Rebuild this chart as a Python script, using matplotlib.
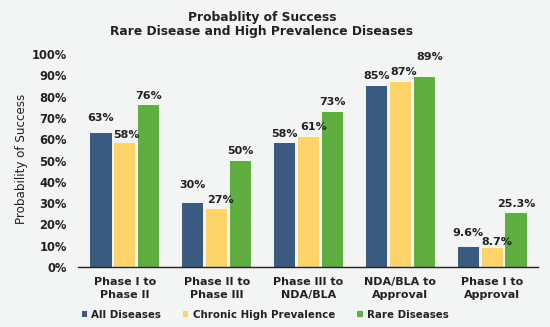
import matplotlib
matplotlib.use("Agg")
import matplotlib.pyplot as plt
import numpy as np

categories = ["Phase I to\nPhase II", "Phase II to\nPhase III", "Phase III to\nNDA/BLA",
              "NDA/BLA to\nApproval", "Phase I to\nApproval"]
all_diseases = [63, 30, 58, 85, 9.6]
chronic_high = [58, 27, 61, 87, 8.7]
rare_diseases = [76, 50, 73, 89, 25.3]
all_labels = ["63%", "30%", "58%", "85%", "9.6%"]
chronic_labels = ["58%", "27%", "61%", "87%", "8.7%"]
rare_labels = ["76%", "50%", "73%", "89%", "25.3%"]
series_names = ["All Diseases", "Chronic High Prevalence", "Rare Diseases"]
colors = ["#3a5a80", "#fdd46a", "#60ad40"]
yticks = list(range(0, 101, 10))

# label placement (pixel offsets relative to bar top centre), per series
label_gap = [[10, 13, 4, 5, 9], [3, 4, 5, 5, 1], [4, 4, 5, 15, 4]]
label_dx = [[0, 0, 0, 0, 0], [2, 4, 5, 3, 5], [0, 0, 0, 6, 0]]

plt.rcParams['font.family'] = ['DejaVu Sans']
fig = plt.figure(figsize=(5.5, 3.27), dpi=100, facecolor="#f3f4f4")
ax = fig.add_axes([78/550, 1-267/327, (538-78)/550, (267-54)/327])
ax.set_facecolor("none")

x = np.arange(len(categories))
w = 0.23
step = 0.26
series = [all_diseases, chronic_high, rare_diseases]
labels = [all_labels, chronic_labels, rare_labels]
for i, (vals, labs, c, name) in enumerate(zip(series, labels, colors, series_names)):
    pos = x + (i - 1) * step
    ax.bar(pos, vals, width=w, color=c, label=name, zorder=2)
    for j, (p, v, t) in enumerate(zip(pos, vals, labs)):
        ax.annotate(t, (p, v), xytext=(label_dx[i][j] * 0.72, label_gap[i][j] * 0.72),
                    textcoords="offset points",
                    ha="center", va="bottom", fontsize=8, fontweight="bold", color="#222222")

ax.set_ylim(0, 100)
ax.set_xlim(-0.51, 4.50)
ax.set_yticks(yticks)
ax.set_yticklabels([f"{t}%" for t in yticks], fontsize=8.3, fontweight="bold", color="#222222")
ax.set_xticks(x)
ax.set_xticklabels(categories, fontsize=8, fontweight="bold", color="#222222", linespacing=1.45)
ax.tick_params(axis="y", length=0, pad=8)
ax.tick_params(axis="x", length=0, pad=7)
for s in ["top", "right", "left"]:
    ax.spines[s].set_visible(False)
ax.spines["bottom"].set_color("#222222")
ax.spines["bottom"].set_linewidth(1.0)

fig.text(22/550, 1-159/327, "Probability of Success", rotation=90, ha="center", va="center",
         fontsize=8.6, color="#222222")
fig.text(262/550, 1-17/327, "Probablity of Success", ha="center", va="center",
         fontsize=8.8, fontweight="bold", color="#222222")
fig.text(262/550, 1-32/327, "Rare Disease and High Prevalence Diseases", ha="center", va="center",
         fontsize=8.8, fontweight="bold", color="#222222")

leg = fig.legend(loc="center", bbox_to_anchor=(265/550, 1-315/327), ncol=3, frameon=False,
                 handlelength=0.5, handleheight=0.5, handletextpad=0.4, columnspacing=2.2,
                 prop={"size": 7.4, "weight": "bold"})
for t in leg.get_texts():
    t.set_color("#222222")

fig.savefig("out.png", dpi=100, facecolor=fig.get_facecolor())
